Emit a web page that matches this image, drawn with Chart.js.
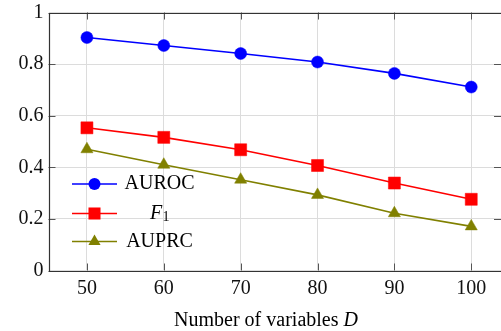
<!DOCTYPE html>
<html>
<head>
<meta charset="utf-8">
<script src="https://cdn.jsdelivr.net/npm/chart.js@4/dist/chart.umd.min.js"></script>
<style>
  html, body { margin: 0; padding: 0; background: #fff; }
  #wrap { width: 501px; height: 331px; position: relative; }
</style>
</head>
<body>
<div id="wrap"><canvas id="c" width="501" height="331"></canvas></div>
<script>
const variables = [50, 60, 70, 80, 90, 100];
const auroc = [0.903, 0.872, 0.841, 0.808, 0.764, 0.711];
const f1 = [0.553, 0.516, 0.468, 0.407, 0.339, 0.276];
const auprc = [0.47, 0.41, 0.352, 0.293, 0.222, 0.171];
const yTicks = [0, 0.2, 0.4, 0.6, 0.8, 1];
const seriesNames = ['AUROC', 'F1', 'AUPRC'];
const xTitle = 'Number of variables ';
const xTitleVar = 'D';

const FONT = '"Liberation Serif", "Times New Roman", serif';
const FS = 20;
const BLUE = '#0000ff', RED = '#ff0000', OLIVE = '#808000';

function mkSet(label, vals, color, style, r) {
  return {
    label: label,
    data: variables.map((x, i) => ({x: x, y: vals[i]})),
    borderColor: color, backgroundColor: color,
    borderWidth: 1.6,
    pointStyle: style, pointRadius: r, pointHoverRadius: r,
    pointBackgroundColor: color, pointBorderColor: color, pointBorderWidth: 0.5,
    tension: 0, fill: false, clip: false
  };
}

function drawMarker(ctx, style, x, y, r, color) {
  ctx.save();
  ctx.fillStyle = color;
  ctx.beginPath();
  if (style === 'circle') {
    ctx.arc(x, y, r, 0, Math.PI * 2);
  } else if (style === 'rect') {
    const s = r / Math.SQRT2;
    ctx.rect(x - s, y - s, 2 * s, 2 * s);
  } else if (style === 'triangle') {
    let rad = 0;
    ctx.moveTo(x + Math.sin(rad) * r, y - Math.cos(rad) * r);
    rad += 2 * Math.PI / 3;
    ctx.lineTo(x + Math.sin(rad) * r, y - Math.cos(rad) * r);
    rad += 2 * Math.PI / 3;
    ctx.lineTo(x + Math.sin(rad) * r, y - Math.cos(rad) * r);
    ctx.closePath();
  }
  ctx.fill();
  ctx.restore();
}

const framePlugin = {
  id: 'frame',
  beforeDatasetsDraw(chart) {
    const ctx = chart.ctx, a = chart.chartArea;
    const xs = chart.scales.x, ys = chart.scales.y;
    ctx.save();
    ctx.strokeStyle = '#555';
    ctx.lineWidth = 1;
    const L = 7;
    variables.forEach(v => {
      const px = Math.round(xs.getPixelForValue(v)) + 0.5;
      ctx.beginPath();
      ctx.moveTo(px, a.bottom); ctx.lineTo(px, a.bottom - L);
      ctx.moveTo(px, a.top); ctx.lineTo(px, a.top + L);
      ctx.stroke();
    });
    yTicks.forEach(v => {
      const py = Math.round(ys.getPixelForValue(v)) + 0.5;
      ctx.beginPath();
      ctx.moveTo(a.left, py); ctx.lineTo(a.left + L, py);
      ctx.moveTo(a.right, py); ctx.lineTo(a.right - L, py);
      ctx.stroke();
    });
    ctx.strokeStyle = '#333';
    ctx.lineWidth = 1.2;
    const l = Math.round(a.left) + 0.5, t = Math.round(a.top) + 0.5, b = Math.round(a.bottom) + 0.5;
    ctx.beginPath();
    ctx.moveTo(a.right + 2, t); ctx.lineTo(l, t); ctx.lineTo(l, b); ctx.lineTo(a.right + 2, b);
    ctx.stroke();
    ctx.restore();
  },
  afterDraw(chart) {
    const ctx = chart.ctx;
    ctx.save();
    const styles = ['circle', 'rect', 'triangle'];
    const colors = [BLUE, RED, OLIVE];
    const radii = [6, 8.5, 7];
    const rows = [184, 213.5, 241.5];
    for (let i = 0; i < 3; i++) {
      const y = rows[i];
      ctx.strokeStyle = colors[i];
      ctx.lineWidth = 1.6;
      ctx.beginPath();
      ctx.moveTo(72, y); ctx.lineTo(117, y);
      ctx.stroke();
      drawMarker(ctx, styles[i], 94.5, y, radii[i], colors[i]);
      ctx.fillStyle = '#000';
      ctx.textBaseline = 'middle';
      if (seriesNames[i] === 'F1') {
        ctx.font = 'italic ' + FS + 'px ' + FONT;
        const wF = ctx.measureText('F').width;
        ctx.font = '14px ' + FONT;
        const w1 = ctx.measureText('1').width;
        const x0 = 159.5 - (wF + w1) / 2;
        ctx.font = 'italic ' + FS + 'px ' + FONT;
        ctx.textAlign = 'left';
        ctx.fillText('F', x0, y);
        ctx.font = '14px ' + FONT;
        ctx.fillText('1', x0 + wF + 0.5, y + 4);
      } else {
        ctx.font = FS + 'px ' + FONT;
        ctx.textAlign = 'center';
        ctx.fillText(seriesNames[i], 159.5, y);
      }
    }
    ctx.textBaseline = 'middle';
    ctx.textAlign = 'left';
    ctx.font = FS + 'px ' + FONT;
    const w1 = ctx.measureText(xTitle).width;
    ctx.font = 'italic ' + FS + 'px ' + FONT;
    const w2 = ctx.measureText(xTitleVar).width;
    const x0 = 266 - (w1 + w2) / 2;
    ctx.font = FS + 'px ' + FONT;
    ctx.fillText(xTitle, x0, 321);
    ctx.font = 'italic ' + FS + 'px ' + FONT;
    ctx.fillText(xTitleVar, x0 + w1, 321);
    ctx.restore();
  }
};

function zeroPad(s) { s.paddingLeft = 0; s.paddingRight = 0; s.paddingTop = 0; s.paddingBottom = 0; }

new Chart(document.getElementById('c'), {
  type: 'line',
  data: {
    datasets: [
      mkSet('AUROC', auroc, BLUE, 'circle', 6),
      mkSet('F1', f1, RED, 'rect', 8.5),
      mkSet('AUPRC', auprc, OLIVE, 'triangle', 7)
    ]
  },
  options: {
    responsive: false,
    animation: false,
    devicePixelRatio: 1,
    layout: { autoPadding: false, padding: { top: 12.5, right: 0, left: 0, bottom: 0 } },
    plugins: { legend: { display: false }, tooltip: { enabled: false }, title: { display: false } },
    scales: {
      x: {
        type: 'linear',
        min: 45, max: 103.87,
        afterBuildTicks: s => { s.ticks = variables.map(v => ({ value: v })); },
        afterFit: s => { s.height = 60.5; zeroPad(s); },
        grid: { color: '#dcdcdc', lineWidth: 1, drawTicks: false },
        border: { display: false },
        ticks: { font: { family: FONT, size: FS }, color: '#111', padding: 6, maxRotation: 0,
                 callback: v => String(v) }
      },
      y: {
        min: 0, max: 1,
        afterBuildTicks: s => { s.ticks = yTicks.map(v => ({ value: v })); },
        afterFit: s => { s.width = 48.5; zeroPad(s); },
        grid: { color: '#dcdcdc', lineWidth: 1, drawTicks: false },
        border: { display: false },
        ticks: { font: { family: FONT, size: FS }, color: '#111', padding: 5,
                 callback: v => String(v) }
      }
    }
  },
  plugins: [framePlugin]
});
</script>
</body>
</html>
